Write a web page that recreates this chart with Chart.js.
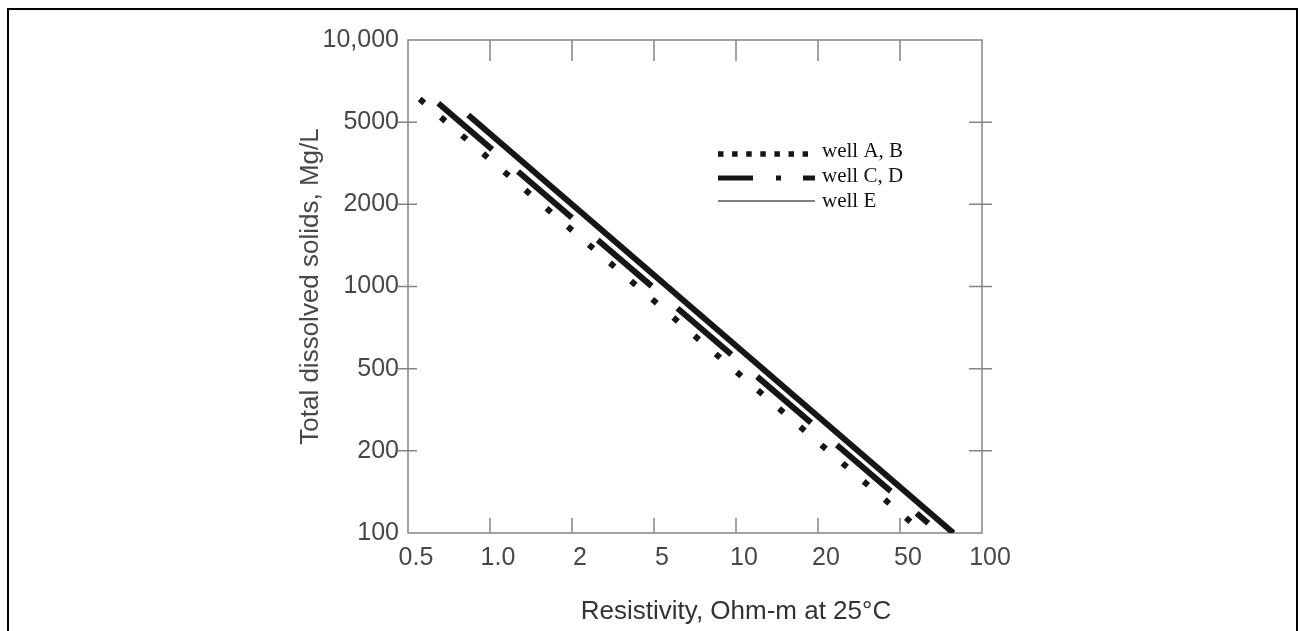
<!DOCTYPE html>
<html>
<head>
<meta charset="utf-8">
<script src="https://cdn.jsdelivr.net/npm/chart.js@4.4.1/dist/chart.umd.min.js"></script>
<style>
  html, body { margin: 0; padding: 0; background: #fff; }
  #wrap { width: 1300px; height: 631px; }
</style>
</head>
<body>
<div id="wrap"><canvas id="chart" width="1300" height="631"></canvas></div>
<script>
// axis tick values (equally spaced on the paper chart) and their printed labels
const X_TICKS = [0.5, 1, 2, 5, 10, 20, 50, 100];
const X_LABELS = ['0.5', '1.0', '2', '5', '10', '20', '50', '100'];
const Y_TICKS = [100, 200, 500, 1000, 2000, 5000, 10000];
const Y_LABELS = ['100', '200', '500', '1000', '2000', '5000', '10,000'];

const SERIES = ['well A, B', 'well C, D', 'well E'];
// [resistivity ohm-m, TDS mg/L] end points
const WELL_AB = [[0.552, 6080], [54.6, 110]];
const WELL_CD = [[0.646, 5865], [63.5, 108.5]];
const WELL_E = [[0.832, 5310], [78.5, 100]];

const X_TITLE = 'Resistivity, Ohm-m at 25°C';
const Y_TITLE = 'Total dissolved solids, Mg/L';

const INK = '#161616';
const AXIS = '#858585';
const TEXT = '#484848';

// value -> position along an axis whose ticks are spaced evenly (log within each step)
function axisPos(v, ticks) {
  for (let i = 0; i < ticks.length - 1; i++) {
    if (v <= ticks[i + 1] || i === ticks.length - 2) {
      return i + Math.log(v / ticks[i]) / Math.log(ticks[i + 1] / ticks[i]);
    }
  }
}

function toPoints(pairs) {
  return pairs.map(([x, y]) => ({ x: axisPos(x, X_TICKS), y: axisPos(y, Y_TICKS) }));
}

// frame box, inner tick marks, x title and the legend
const decorPlugin = {
  id: 'decor',
  beforeDatasetsDraw(chart) {
    const { ctx, chartArea: a, scales: { x, y } } = chart;
    ctx.save();
    // outer page frame
    ctx.strokeStyle = '#000';
    ctx.lineWidth = 2;
    ctx.strokeRect(8, 9, 1289, 700);
    // plot box
    ctx.strokeStyle = AXIS;
    ctx.lineWidth = 1.5;
    ctx.strokeRect(a.left, a.top, a.right - a.left, a.bottom - a.top);
    ctx.beginPath();
    for (let i = 1; i < X_LABELS.length - 1; i++) {
      const px = x.getPixelForValue(i);
      ctx.moveTo(px, a.top); ctx.lineTo(px, a.top + 21);
      ctx.moveTo(px, a.bottom); ctx.lineTo(px, a.bottom - 15);
    }
    for (let i = 1; i < Y_LABELS.length - 1; i++) {
      const py = y.getPixelForValue(i);
      ctx.moveTo(a.left - 10, py); ctx.lineTo(a.left + 9, py);
      ctx.moveTo(a.right - 13, py); ctx.lineTo(a.right + 10, py);
    }
    ctx.stroke();
    ctx.restore();
  },
  afterDraw(chart) {
    const { ctx } = chart;
    ctx.save();
    // x axis title
    ctx.fillStyle = '#333';
    ctx.font = '26px "Liberation Sans", Arial, sans-serif';
    ctx.textAlign = 'center';
    ctx.textBaseline = 'middle';
    ctx.fillText(X_TITLE, 736, 612);

    // legend
    const styles = [
      { dash: [5.5, 8.6], width: 5.5, color: INK, y: 154, end: 808 },
      { dash: [35, 23, 5, 22, 12, 200], width: 5, color: INK, y: 178, end: 815 },
      { dash: [], width: 1.5, color: '#555', y: 201, end: 815 }
    ];
    const baselines = [157, 182, 207];
    chart.data.datasets.forEach((ds, i) => {
      const s = styles[i];
      ctx.beginPath();
      ctx.setLineDash(s.dash);
      ctx.lineCap = 'butt';
      ctx.lineWidth = s.width;
      ctx.strokeStyle = s.color;
      ctx.moveTo(718, s.y);
      ctx.lineTo(s.end, s.y);
      ctx.stroke();
      ctx.setLineDash([]);
      ctx.fillStyle = '#111';
      ctx.font = '21px "Liberation Serif", "Times New Roman", serif';
      ctx.textAlign = 'left';
      ctx.textBaseline = 'alphabetic';
      ctx.fillText(ds.label, 822, baselines[i]);
    });
    ctx.restore();
  }
};

const tickFont = { family: '"Liberation Sans", Arial, sans-serif', size: 25 };

new Chart(document.getElementById('chart').getContext('2d'), {
  type: 'scatter',
  data: {
    datasets: [
      { label: SERIES[0], data: toPoints(WELL_AB), showLine: true, borderColor: INK, borderWidth: 6, borderDash: [6, 21.9], pointRadius: 0 },
      { label: SERIES[1], data: toPoints(WELL_CD), showLine: true, borderColor: INK, borderWidth: 6, borderDash: [71, 34], pointRadius: 0 },
      { label: SERIES[2], data: toPoints(WELL_E), showLine: true, borderColor: INK, borderWidth: 6, pointRadius: 0 }
    ]
  },
  options: {
    responsive: false,
    animation: false,
    devicePixelRatio: 1,
    layout: { padding: { left: 292, right: 318, top: 40, bottom: 0 } },
    plugins: { legend: { display: false }, tooltip: { enabled: false } },
    elements: { line: { borderCapStyle: 'butt', tension: 0 } },
    scales: {
      x: {
        type: 'linear', min: 0, max: X_LABELS.length - 1,
        afterBuildTicks: (s) => { s.ticks = X_LABELS.map((_, i) => ({ value: i })); },
        afterFit: (s) => { s.height = 98; },
        ticks: { callback: (v) => X_LABELS[v], font: tickFont, color: TEXT, padding: 10, labelOffset: 8, maxRotation: 0, autoSkip: false },
        grid: { display: false, drawTicks: false },
        border: { display: false }
      },
      y: {
        type: 'linear', min: 0, max: Y_LABELS.length - 1,
        afterBuildTicks: (s) => { s.ticks = Y_LABELS.map((_, i) => ({ value: i })); },
        afterFit: (s) => { s.width = 116; },
        ticks: { callback: (v) => Y_LABELS[v], font: tickFont, color: TEXT, padding: 9, autoSkip: false },
        grid: { display: false, drawTicks: false },
        border: { display: false },
        title: { display: true, text: Y_TITLE, font: { family: '"Liberation Sans", Arial, sans-serif', size: 26 }, color: TEXT, padding: { top: 3, bottom: 0 } }
      }
    }
  },
  plugins: [decorPlugin]
});
</script>
</body>
</html>
